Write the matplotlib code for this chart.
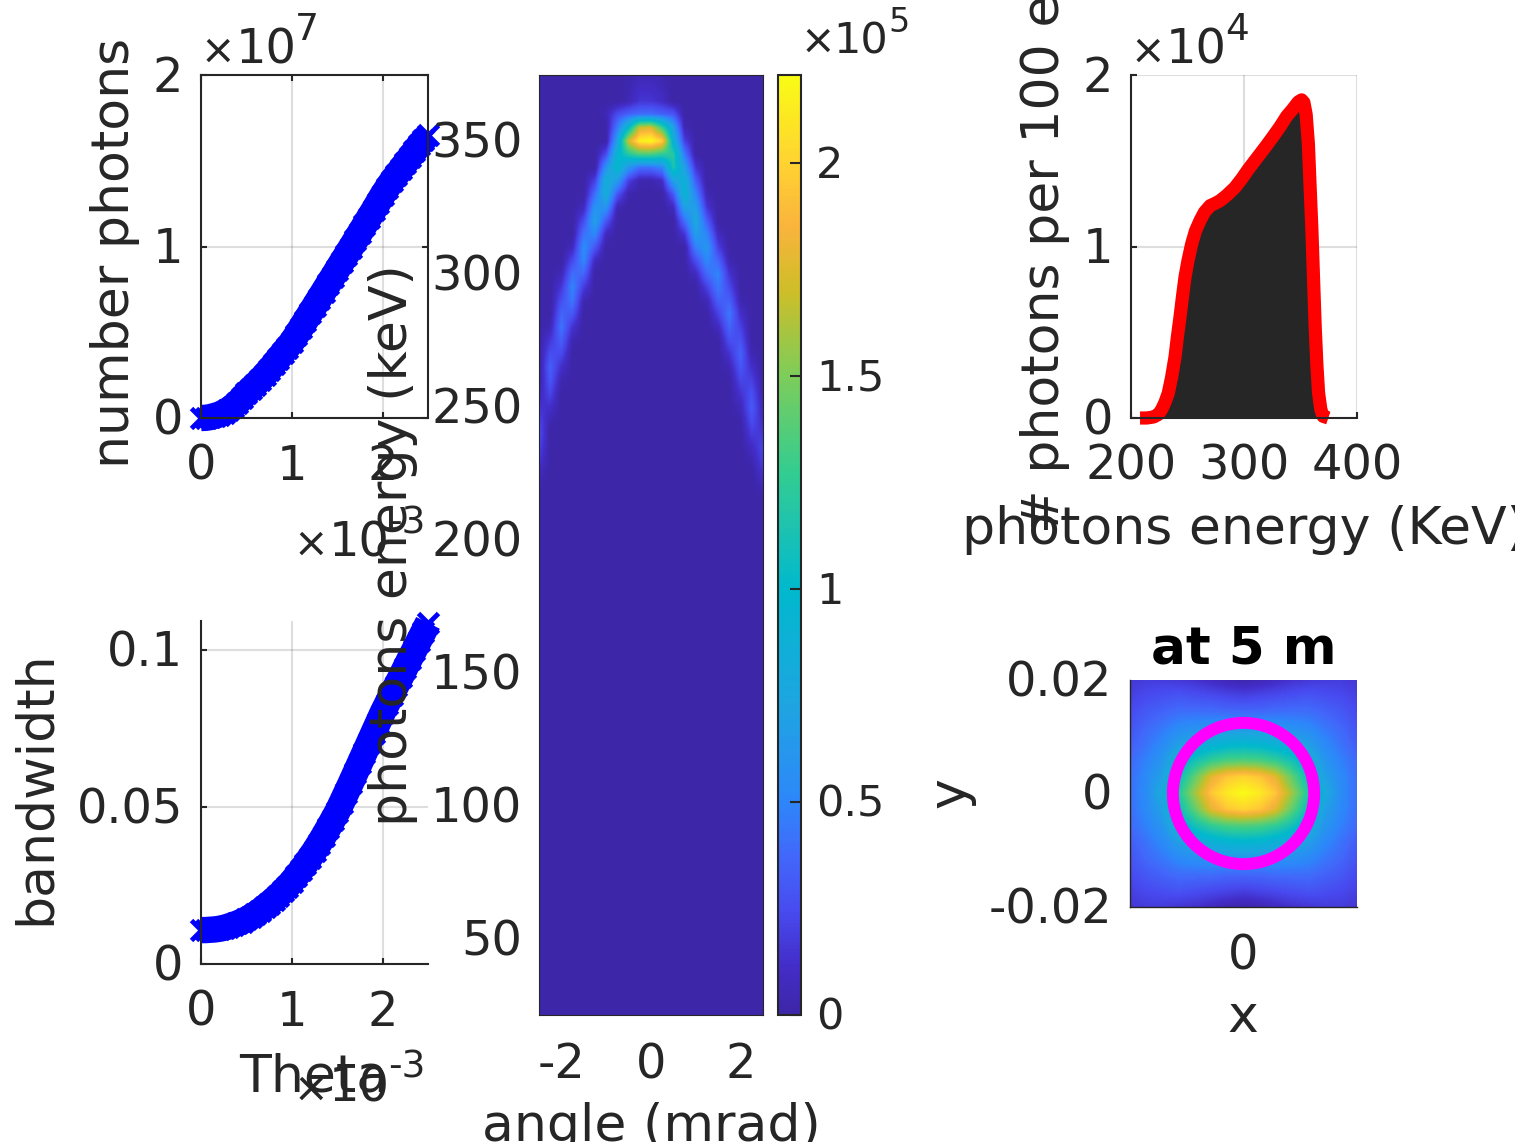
import matplotlib
matplotlib.use("Agg")
import matplotlib.pyplot as plt
from matplotlib.colors import LinearSegmentedColormap
from matplotlib.patches import Circle
from matplotlib.transforms import Bbox, ScaledTranslation
import numpy as np

# layout is measured on the picture in pixels
W_PX = 1537.0
H_PX = 1147.0
DARK = "#262626"

plt.rcParams["font.family"] = "DejaVu Sans"
plt.rcParams["axes.unicode_minus"] = False

# theta sweep (x 1e-3)
theta = [0.00, 0.05, 0.10, 0.15, 0.20, 0.25, 0.30, 0.35, 0.40, 0.45, 0.50, 0.55, 0.60, 0.65, 0.70, 0.75, 0.80,
         0.85, 0.90, 0.95, 1.00, 1.05, 1.10, 1.15, 1.20, 1.25, 1.30, 1.35, 1.40, 1.45, 1.50, 1.55, 1.60, 1.65,
         1.70, 1.75, 1.80, 1.85, 1.90, 1.95, 2.00, 2.05, 2.10, 2.15, 2.20, 2.25, 2.30, 2.35, 2.40, 2.45, 2.50]
# number photons (x 1e7)
n_photons = [0.000, 0.001, 0.005, 0.012, 0.020, 0.032, 0.047, 0.065, 0.088, 0.115, 0.145, 0.170, 0.195, 0.222,
             0.250, 0.280, 0.312, 0.345, 0.378, 0.410, 0.443, 0.483, 0.525, 0.567, 0.610, 0.652, 0.695, 0.737,
             0.780, 0.822, 0.865, 0.908, 0.950, 0.993, 1.036, 1.080, 1.123, 1.167, 1.210, 1.255, 1.300, 1.340,
             1.380, 1.415, 1.450, 1.485, 1.520, 1.555, 1.590, 1.620, 1.650]
bandwidth = [0.0108, 0.0108, 0.0109, 0.0110, 0.0112, 0.0115, 0.0119, 0.0124, 0.0129, 0.0135, 0.0142, 0.0150,
             0.0159, 0.0169, 0.0180, 0.0192, 0.0204, 0.0217, 0.0231, 0.0246, 0.0262, 0.0280, 0.0298, 0.0318,
             0.0339, 0.0360, 0.0383, 0.0407, 0.0432, 0.0458, 0.0484, 0.0514, 0.0545, 0.0576, 0.0608, 0.0640,
             0.0672, 0.0704, 0.0736, 0.0768, 0.0800, 0.0829, 0.0857, 0.0886, 0.0914, 0.0943, 0.0972, 0.1000,
             0.1029, 0.1057, 0.1086]

# spectrum, energy in keV, counts x 1e4
spec_energy = [208, 214, 220, 224, 227, 230, 233, 236, 239, 241, 243.4, 245.6, 247.8, 250.5, 253.7, 257, 261, 265,
               270, 274, 278.8, 285, 292, 298, 303.8, 309, 314, 320, 326, 332, 337.8, 343, 348, 351, 353, 355, 357,
               358.5, 360, 361.5, 363, 364.5, 366, 368, 370, 374.6]
spec_counts = [0.0, 0.0, 0.006, 0.02, 0.048, 0.09, 0.145, 0.24, 0.358, 0.47, 0.59, 0.71, 0.822, 0.92, 1.015, 1.09,
               1.15, 1.2, 1.238, 1.25, 1.267, 1.30, 1.344, 1.395, 1.45, 1.495, 1.538, 1.59, 1.644, 1.70, 1.76, 1.80,
               1.843, 1.855, 1.84, 1.77, 1.596, 1.35, 1.112, 0.82, 0.532, 0.31, 0.145, 0.05, 0.01, 0.0]

# angle-energy map, top rows only (375 keV down to 220 keV, 5 keV steps), values x 1e3
# columns go from -2.5 to 2.5 mrad in 0.25 mrad steps, everything under 220 keV is empty
map_rows = [
    [0, 0, 0, 0, 0, 0, 0, 0, 2, 5, 5, 3, 0, 0, 0, 0, 0, 0, 0, 0, 0],
    [0, 0, 0, 0, 0, 0, 0, 0, 3, 10, 10, 6, 0, 0, 0, 0, 0, 0, 0, 0, 0],
    [0, 0, 0, 0, 0, 0, 0, 0, 5, 15, 15, 10, 0, 0, 0, 0, 0, 0, 0, 0, 0],
    [0, 0, 0, 0, 0, 0, 5, 25, 35, 40, 40, 35, 30, 0, 0, 0, 0, 0, 0, 0, 0],
    [0, 0, 0, 0, 0, 0, 0, 45, 100, 170, 175, 130, 70, 5, 0, 0, 0, 0, 0, 0, 0],
    [0, 0, 0, 0, 0, 0, 0, 70, 170, 215, 220, 200, 90, 20, 0, 0, 0, 0, 0, 0, 0],
    [0, 0, 0, 0, 0, 0, 25, 93, 120, 135, 135, 125, 120, 45, 0, 0, 0, 0, 0, 0, 0],
    [0, 0, 0, 0, 0, 0, 60, 100, 60, 40, 40, 50, 115, 70, 15, 0, 0, 0, 0, 0, 0],
    [0, 0, 0, 0, 0, 20, 85, 65, 20, 3, 3, 10, 70, 90, 32, 0, 0, 0, 0, 0, 0],
    [0, 0, 0, 0, 0, 40, 85, 29, 3, 0, 0, 0, 30, 95, 50, 5, 0, 0, 0, 0, 0],
    [0, 0, 0, 0, 8, 60, 60, 5, 0, 0, 0, 0, 8, 70, 68, 15, 0, 0, 0, 0, 0],
    [0, 0, 0, 0, 25, 70, 30, 0, 0, 0, 0, 0, 0, 40, 78, 32, 0, 0, 0, 0, 0],
    [0, 0, 0, 0, 42, 52, 8, 0, 0, 0, 0, 0, 0, 15, 68, 50, 8, 0, 0, 0, 0],
    [0, 0, 0, 8, 55, 30, 0, 0, 0, 0, 0, 0, 0, 0, 48, 62, 20, 0, 0, 0, 0],
    [0, 0, 0, 24, 52, 8, 0, 0, 0, 0, 0, 0, 0, 0, 26, 52, 36, 4, 0, 0, 0],
    [0, 0, 6, 40, 36, 0, 0, 0, 0, 0, 0, 0, 0, 0, 8, 38, 50, 14, 0, 0, 0],
    [0, 0, 16, 50, 18, 0, 0, 0, 0, 0, 0, 0, 0, 0, 0, 20, 45, 24, 0, 0, 0],
    [0, 0, 26, 44, 4, 0, 0, 0, 0, 0, 0, 0, 0, 0, 0, 6, 34, 34, 4, 0, 0],
    [0, 0, 36, 30, 0, 0, 0, 0, 0, 0, 0, 0, 0, 0, 0, 0, 20, 44, 12, 0, 0],
    [0, 6, 42, 14, 0, 0, 0, 0, 0, 0, 0, 0, 0, 0, 0, 0, 8, 36, 20, 0, 0],
    [0, 16, 34, 4, 0, 0, 0, 0, 0, 0, 0, 0, 0, 0, 0, 0, 0, 26, 28, 0, 0],
    [0, 26, 24, 0, 0, 0, 0, 0, 0, 0, 0, 0, 0, 0, 0, 0, 0, 14, 35, 4, 0],
    [0, 34, 12, 0, 0, 0, 0, 0, 0, 0, 0, 0, 0, 0, 0, 0, 0, 5, 30, 12, 0],
    [0, 30, 4, 0, 0, 0, 0, 0, 0, 0, 0, 0, 0, 0, 0, 0, 0, 0, 22, 20, 0],
    [6, 22, 0, 0, 0, 0, 0, 0, 0, 0, 0, 0, 0, 0, 0, 0, 0, 0, 14, 27, 2],
    [14, 12, 0, 0, 0, 0, 0, 0, 0, 0, 0, 0, 0, 0, 0, 0, 0, 0, 7, 32, 6],
    [22, 4, 0, 0, 0, 0, 0, 0, 0, 0, 0, 0, 0, 0, 0, 0, 0, 0, 2, 26, 10],
    [26, 0, 0, 0, 0, 0, 0, 0, 0, 0, 0, 0, 0, 0, 0, 0, 0, 0, 0, 18, 16],
    [22, 0, 0, 0, 0, 0, 0, 0, 0, 0, 0, 0, 0, 0, 0, 0, 0, 0, 0, 10, 22],
    [15, 0, 0, 0, 0, 0, 0, 0, 0, 0, 0, 0, 0, 0, 0, 0, 0, 0, 0, 4, 20],
    [7, 0, 0, 0, 0, 0, 0, 0, 0, 0, 0, 0, 0, 0, 0, 0, 0, 0, 0, 0, 13],
    [2, 0, 0, 0, 0, 0, 0, 0, 0, 0, 0, 0, 0, 0, 0, 0, 0, 0, 0, 0, 6],
]
n_empty_rows = 40

# spot at 5 m, relative level in percent, x and y from -0.02 to 0.02
spot_rows = [
    [7, 8, 8, 7, 6, 4, 2, 1, 2, 4, 6, 7, 8, 8, 7],
    [9, 11, 12, 13, 12, 11, 10, 9, 10, 11, 12, 13, 12, 11, 9],
    [11, 14, 16, 18, 18, 18, 17, 17, 17, 18, 18, 18, 16, 14, 11],
    [13, 17, 20, 24, 26, 27, 28, 28, 28, 27, 26, 24, 20, 17, 13],
    [15, 19, 24, 31, 36, 40, 43, 44, 43, 40, 36, 31, 24, 19, 15],
    [17, 22, 28, 40, 50, 57, 61, 62, 61, 57, 50, 40, 28, 22, 17],
    [18, 24, 32, 48, 64, 80, 88, 91, 88, 80, 64, 48, 32, 24, 18],
    [18, 25, 36, 54, 72, 88, 96, 100, 96, 88, 72, 54, 36, 25, 18],
    [18, 24, 32, 48, 64, 80, 88, 91, 88, 80, 64, 48, 32, 24, 18],
    [17, 22, 28, 40, 50, 57, 61, 62, 61, 57, 50, 40, 28, 22, 17],
    [15, 19, 24, 31, 36, 40, 43, 44, 43, 40, 36, 31, 24, 19, 15],
    [13, 17, 20, 24, 26, 27, 28, 28, 28, 27, 26, 24, 20, 17, 13],
    [11, 14, 16, 18, 18, 18, 17, 17, 17, 18, 18, 18, 16, 14, 11],
    [9, 11, 12, 13, 12, 11, 10, 9, 10, 11, 12, 13, 12, 11, 9],
    [7, 8, 8, 7, 6, 4, 2, 1, 2, 4, 6, 7, 8, 8, 7],
]

# colormap
cbar_pos = [0.0, 0.05, 0.11, 0.17, 0.227, 0.33, 0.453, 0.52, 0.577, 0.68, 0.77, 0.84, 0.906, 1.0]
cbar_rgb = [(61, 38, 168), (67, 45, 200), (72, 75, 240), (65, 105, 250), (45, 135, 250), (30, 165, 225),
            (0, 185, 205), (30, 195, 175), (50, 205, 145), (125, 205, 90), (205, 190, 40), (250, 180, 60),
            (255, 210, 50), (249, 251, 21)]
parula = LinearSegmentedColormap.from_list(
    "parula_like", [(p, tuple(c / 255 for c in rgb)) for p, rgb in zip(cbar_pos, cbar_rgb)])

fig = plt.figure(figsize=(15.37, 11.47), dpi=100)


def add_ax(left, top, right, bottom):
    return fig.add_axes([left / W_PX, 1 - bottom / H_PX, (right - left) / W_PX, (bottom - top) / H_PX])


def ptext(x, y, s, size=37.5, rotation=0, ha="center", va="baseline", **kw):
    kw.setdefault("color", DARK)
    return fig.text(x / W_PX, 1 - y / H_PX, s, size=size, rotation=rotation, ha=ha, va=va,
                    rotation_mode="anchor", **kw)


def offset_label(x_cross, base, exp, small=False):
    # the x10^n mark, pieces placed by hand like the original figure
    ptext(x_cross, base + 5, "\u00d7", size=38, family="Lato", ha="center")
    if small:
        ptext(x_cross + 15, base, "10", size=31, ha="left")
        ptext(x_cross + 70, base - 21, exp, size=24, ha="left")
    else:
        ptext(x_cross + 18, base, "10", size=34.5, ha="left")
        ptext(x_cross + 77, base - 23, exp, size=27, ha="left")


def style_ax(ax, box=False):
    ax.grid(True, color=DARK, alpha=0.15, lw=1.5)
    ax.set_axisbelow(True)
    ax.tick_params(direction="in", length=4, width=1.5, color=DARK, labelcolor=DARK, labelsize=34.5,
                   top=box, right=box)
    ax.tick_params(axis="x", pad=18)
    ax.tick_params(axis="y", pad=13)
    for side in ["top", "right"]:
        ax.spines[side].set_visible(box)
    for sp in ax.spines.values():
        sp.set_color(DARK)
        sp.set_linewidth(1.5)


# number photons
ax1 = add_ax(201, 75, 428, 418)
ax1.plot(theta, n_photons, "-", color="#0000ff", lw=19, solid_capstyle="butt", clip_on=False)
ax1.plot(theta, n_photons, "x", color="#0000ff", ms=14, mew=3.5, clip_on=False)
ax1.set_xlim(0, 2.5)
ax1.set_ylim(0, 2)
ax1.set_xticks([0, 1, 2])
ax1.set_yticks([0, 1, 2])
style_ax(ax1, box=True)

# bandwidth
ax2 = add_ax(201, 621, 428, 964)
ax2.plot(theta, bandwidth, "-", color="#0000ff", lw=19, solid_capstyle="butt", clip_on=False)
ax2.plot(theta, bandwidth, "x", color="#0000ff", ms=14, mew=3.5, clip_on=False)
ax2.set_xlim(0, 2.5)
ax2.set_ylim(0, 0.1092)
ax2.set_xticks([0, 1, 2])
ax2.set_yticks([0, 0.05, 0.1])
ax2.set_yticklabels(["0", "0.05", "0.1"])
style_ax(ax2)

# angle - energy map
ax3 = add_ax(539, 75, 763, 1015)
map_grid = np.vstack([np.array(map_rows) / 100.0, np.zeros((n_empty_rows, len(map_rows[0])))])
im = ax3.imshow(map_grid, cmap=parula, vmin=0, vmax=2.207, aspect="auto", interpolation="bilinear",
                extent=(-2.625, 2.625, 17.5, 377.5), origin="upper")
ax3.set_xlim(-2.5, 2.5)
ax3.set_ylim(21.4, 374.8)
ax3.set_xticks([-2, 0, 2])
ax3.set_yticks([50, 100, 150, 200, 250, 300, 350])
ax3.tick_params(length=0, labelcolor=DARK, labelsize=34.5)
ax3.tick_params(axis="x", pad=19)
ax3.tick_params(axis="y", pad=12)
for sp in ax3.spines.values():
    sp.set_color(DARK)
    sp.set_linewidth(0.8)

cax = add_ax(778, 75, 801, 1015)
cb = fig.colorbar(im, cax=cax)
cb.set_ticks([0, 0.5, 1, 1.5, 2])
cb.set_ticklabels(["0", "0.5", "1", "1.5", "2"])
cb.ax.tick_params(direction="in", length=8, width=1.5, color=DARK, labelcolor=DARK, labelsize=31, pad=11)
cb.outline.set_edgecolor(DARK)
cb.outline.set_linewidth(1.5)

# spectrum
ax4 = add_ax(1131, 75, 1357, 418)
ax4.fill_between(spec_energy, spec_counts, 0, color=DARK, lw=0)
ax4.plot(spec_energy, spec_counts, "-", color="#ff0000", lw=9.5, clip_on=False, solid_joinstyle="round",
         solid_capstyle="butt")
ax4.set_xlim(200, 400)
ax4.set_ylim(0, 2)
ax4.set_xticks([200, 300, 400])
ax4.set_yticks([0, 1, 2])
style_ax(ax4)

# spot at 5 m
ax5 = add_ax(1130, 680, 1357, 907)
ax5.imshow(np.array(spot_rows) / 100.0, cmap=parula, vmin=0, vmax=1, aspect="auto", interpolation="bilinear",
           extent=(-0.0214, 0.0214, -0.0214, 0.0214), origin="upper")
ax5.add_patch(Circle((0, 0), 0.01245, fill=False, edgecolor="#ff00ff", lw=8.6))
ax5.set_xlim(-0.02, 0.02)
ax5.set_ylim(-0.02, 0.02)
ax5.set_xticks([0])
ax5.set_yticks([-0.02, 0, 0.02])
ax5.set_yticklabels(["-0.02", "0", "0.02"])
ax5.tick_params(length=0, labelcolor=DARK, labelsize=34.5)
ax5.tick_params(axis="x", pad=18)
ax5.tick_params(axis="y", pad=13)
for side in ["top", "right"]:
    ax5.spines[side].set_visible(False)
for side in ["left", "bottom"]:
    ax5.spines[side].set_color(DARK)
    ax5.spines[side].set_linewidth(1)

# y tick labels sit about 2 px higher in the source
lift = ScaledTranslation(0, 2 / 100.0, fig.dpi_scale_trans)
for ax in [ax1, ax2, ax3, cb.ax, ax4, ax5]:
    for lab in ax.get_yticklabels():
        lab.set_transform(lab.get_transform() + lift)

# labels sit on top of everything and overlap the panels, same as the source figure
ptext(128.5, 253, "number photons", rotation=90)
ptext(49.5, 788, "bandwidth", rotation=90)
ptext(314, 1092, "Theta")
ptext(407.5, 545, "photons energy (keV)", rotation=90)
ptext(651, 1141, "angle (mrad)")
ptext(1059, 246, "# photons per 100 eV", rotation=90)
ptext(1244, 544, "photons energy (KeV)")
ptext(964, 793, "y", rotation=90)
ptext(1243, 1032, "x")
ptext(1243.5, 664, "at 5 m", size=37.3, weight="bold", color="black")

offset_label(218, 63, "7")
offset_label(311, 556, "-3")
offset_label(311, 1101, "-3")
offset_label(818, 53, "5", small=True)
offset_label(1148, 63, "4")

# source export is cut at 1515 x 1142, the rest of the canvas stays white
cut = Bbox.from_extents(0, H_PX - 1142, 1515, H_PX)
for t in fig.texts:
    t.set_clip_on(True)
    t.set_clip_box(cut)

fig.savefig("out.png", dpi=100)
